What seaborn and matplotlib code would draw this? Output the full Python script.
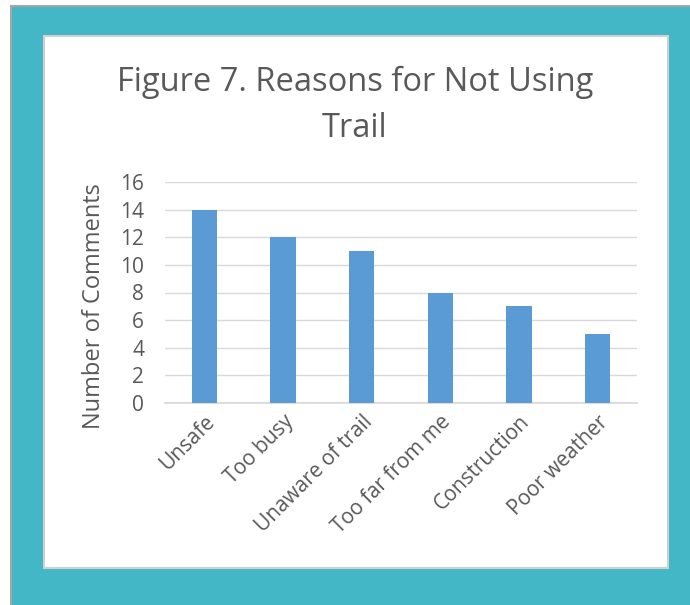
import matplotlib
matplotlib.use("Agg")
import matplotlib.pyplot as plt
import seaborn as sns
import pandas as pd
from matplotlib.patches import Rectangle

reasons = ["Unsafe", "Too busy", "Unaware of trail", "Too far from me", "Construction", "Poor weather"]
comments = [14, 12, 11, 8, 7, 5]
y_ticks = [0, 2, 4, 6, 8, 10, 12, 14, 16]

sns.set_theme(style="white")
plt.rcParams['font.family'] = ['Open Sans', 'DejaVu Sans']

df = pd.DataFrame({"Reason": reasons, "Comments": comments})

W, H = 690, 605
fig = plt.figure(figsize=(W / 100, H / 100), dpi=100)

# frame: grey outline, teal border, white panel
fig.patches.append(Rectangle((10 / W, 0), 1 - 10 / W, 1 - 5 / H, transform=fig.transFigure,
                             facecolor="#A6A6A6", edgecolor="none", zorder=-3))
fig.patches.append(Rectangle((12 / W, 0), 1 - 12 / W, 1 - 7 / H, transform=fig.transFigure,
                             facecolor="#43B7C5", edgecolor="none", zorder=-2))
fig.patches.append(Rectangle((44 / W, 1 - 568 / H), 624 / W, 532 / H, transform=fig.transFigure,
                             facecolor="white", edgecolor="#D0D0D0", linewidth=1.5, zorder=-1))

ax = fig.add_axes([165 / W, 1 - 403 / H, 472 / W, 221 / H])
ax.set_facecolor("none")
sns.barplot(data=df, x="Reason", y="Comments", color="#5B9BD5", width=0.32,
            saturation=1, linewidth=0, ax=ax, zorder=3)

ax.set_ylim(0, 16)
ax.set_yticks(y_ticks)
ax.yaxis.grid(True, color="#D9D9D9", linewidth=1)
ax.set_axisbelow(True)
for s in ["top", "right", "left"]:
    ax.spines[s].set_visible(False)
ax.spines["bottom"].set_color("#D9D9D9")
ax.tick_params(axis="both", length=0, labelsize=15, labelcolor="#595959")
ax.tick_params(axis="y", pad=15)
ax.tick_params(axis="x", pad=6)
ax.set_xticks(range(len(reasons)))
ax.set_xticklabels(reasons, rotation=45, ha="right", rotation_mode="anchor")
ax.set_xlabel("")
ax.set_ylabel("Number of Comments", fontsize=17, color="#595959")
ax.yaxis.set_label_coords(-0.125, 0.44)

fig.text(355 / W, 1 - 82 / H, "Figure 7. Reasons for Not Using", ha="center", va="center",
         fontsize=23.5, color="#595959")
fig.text(355 / W, 1 - 128 / H, "Trail", ha="center", va="center", fontsize=23.5, color="#595959")

fig.savefig("out.png", dpi=100)
